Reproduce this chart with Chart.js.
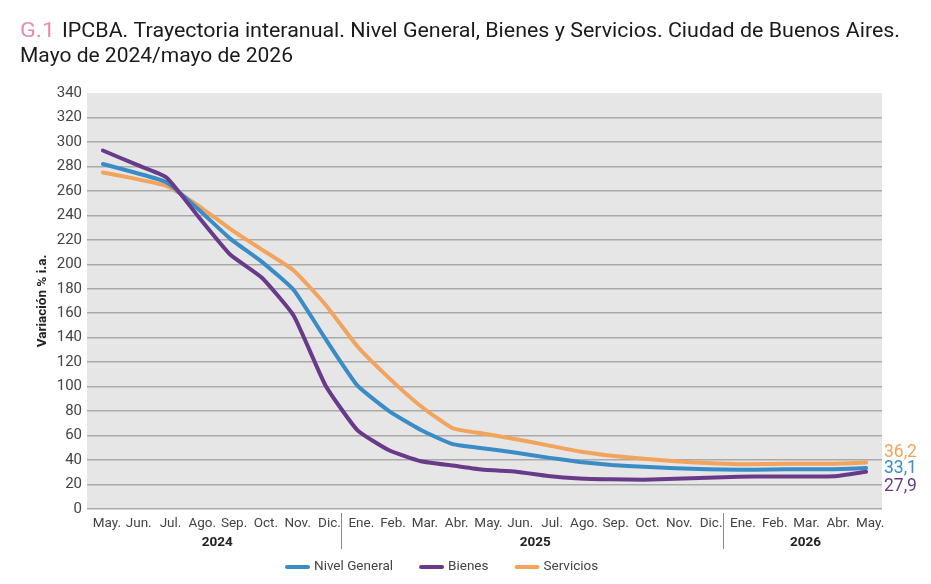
<!DOCTYPE html>
<html>
<head>
<meta charset="utf-8">
<script src="https://cdn.jsdelivr.net/npm/chart.js@4.4.1/dist/chart.umd.min.js"></script>
<style>
  html, body { margin: 0; padding: 0; background: #ffffff; }
  #wrap { position: relative; width: 931px; height: 584px; }
</style>
</head>
<body>
<div id="wrap"><canvas id="c" width="931" height="584"></canvas></div>
<script>
// ---- Data ----
const months = ['May.','Jun.','Jul.','Ago.','Sep.','Oct.','Nov.','Dic.',
                'Ene.','Feb.','Mar.','Abr.','May.','Jun.','Jul.','Ago.','Sep.','Oct.','Nov.','Dic.',
                'Ene.','Feb.','Mar.','Abr.','May.'];
const years = ['2024', '2025', '2026'];
const yearSpans = [[0, 7], [8, 19], [20, 24]];
const nivelGeneral = [282, 275, 267, 245, 221, 202, 179, 139, 101, 80, 64.5, 53, 49.5, 46, 42, 38.5, 36, 34.5, 33.3, 32.5, 32, 32.3, 32.5, 32.5, 33.5];
const bienes       = [293, 282, 271, 239, 208, 189, 158, 101, 64.5, 48, 39, 35.5, 32, 30.5, 27, 25, 24.3, 24, 24.7, 25.5, 26.4, 26.6, 26.6, 26.8, 30.5];
const servicios    = [275, 270, 264, 248, 229, 212, 195, 167, 133, 107, 84, 66, 61.5, 57, 52, 47, 43.5, 41, 39, 37.5, 36.5, 36.8, 37, 37, 38];
const endLabels = ['33,1', '27,9', '36,2'];
const seriesNames = ['Nivel General', 'Bienes', 'Servicios'];
const yTicksMax = 340;
const yTicksStep = 20;

const COLORS = ['#3a8cc6', '#6a3a8a', '#f2a35c'];
const FONT = 'Roboto, "Liberation Sans", Arial, sans-serif';

// ---- Plugins ----
const decor = {
  id: 'decor',
  beforeDraw(chart) {
    const {ctx, chartArea: a} = chart;
    ctx.save();
    ctx.fillStyle = '#e6e6e6';
    ctx.fillRect(a.left, a.top, a.right - a.left, a.bottom - a.top);
    ctx.restore();
  },
  afterDraw(chart) {
    const {ctx, chartArea: a} = chart;
    const x = chart.scales.x, y = chart.scales.y;
    ctx.save();
    // Title
    ctx.textBaseline = 'alphabetic';
    ctx.textAlign = 'left';
    ctx.font = '21px ' + FONT;
    ctx.fillStyle = '#e48db3';
    const g = 'G.1';
    let w = ctx.measureText(g).width;
    ctx.save(); ctx.translate(20, 37); ctx.scale(35 / w, 1); ctx.fillText(g, 0, 0); ctx.restore();
    ctx.fillStyle = '#1a1a1a';
    const t1 = 'IPCBA. Trayectoria interanual. Nivel General, Bienes y Servicios. Ciudad de Buenos Aires.';
    w = ctx.measureText(t1).width;
    ctx.save(); ctx.translate(62, 37); ctx.scale(838 / w, 1); ctx.fillText(t1, 0, 0); ctx.restore();
    const t2 = 'Mayo de 2024/mayo de 2026';
    w = ctx.measureText(t2).width;
    ctx.save(); ctx.translate(20, 62); ctx.scale(273 / w, 1); ctx.fillText(t2, 0, 0); ctx.restore();

    // Year labels and separators
    ctx.font = 'bold 13.5px ' + FONT;
    ctx.fillStyle = '#222';
    ctx.textAlign = 'center';
    ctx.textBaseline = 'middle';
    yearSpans.forEach((s, i) => {
      const cx = (x.getPixelForValue(s[0]) + x.getPixelForValue(s[1])) / 2 + 3;
      ctx.fillText(years[i], cx, 543);
      if (i > 0) {
        const sx = Math.round((x.getPixelForValue(s[0] - 1) + x.getPixelForValue(s[0])) / 2) + 0.5;
        ctx.strokeStyle = '#8a8a8a';
        ctx.lineWidth = 1;
        ctx.beginPath(); ctx.moveTo(sx, 513); ctx.lineTo(sx, 549); ctx.stroke();
      }
    });

    // End labels
    ctx.font = '17.5px ' + FONT;
    ctx.textAlign = 'left';
    const offs = [1, 15, -10];
    chart.data.datasets.forEach((ds, i) => {
      const v = ds.data[ds.data.length - 1];
      ctx.fillStyle = COLORS[i];
      ctx.fillText(endLabels[i], a.right + 2, y.getPixelForValue(v) + offs[i]);
    });

    // Legend
    ctx.font = '13.5px ' + FONT;
    ctx.textBaseline = 'middle';
    let lx = 285;
    const ly = 567;
    chart.data.datasets.forEach((ds, i) => {
      ctx.strokeStyle = COLORS[i];
      ctx.lineWidth = 4;
      ctx.lineCap = 'round';
      ctx.beginPath(); ctx.moveTo(lx + 2, ly); ctx.lineTo(lx + 23, ly); ctx.stroke();
      ctx.fillStyle = '#444';
      ctx.fillText(ds.label, lx + 29, ly);
      lx += 29 + ctx.measureText(ds.label).width + 26;
    });
    ctx.restore();
  }
};

new Chart(document.getElementById('c'), {
  type: 'line',
  data: {
    labels: months,
    datasets: [
      { label: seriesNames[0], data: nivelGeneral, borderColor: COLORS[0], order: 1 },
      { label: seriesNames[1], data: bienes, borderColor: COLORS[1], order: 0 },
      { label: seriesNames[2], data: servicios, borderColor: COLORS[2], order: 2 }
    ]
  },
  options: {
    responsive: false,
    animation: false,
    devicePixelRatio: 1,
    layout: { padding: { top: 93, right: 49, bottom: 45, left: 0 } },
    elements: {
      line: { borderWidth: 4, tension: 0.15, fill: false, borderJoinStyle: 'round', borderCapStyle: 'round' },
      point: { radius: 0, hoverRadius: 0 }
    },
    plugins: { legend: { display: false }, tooltip: { enabled: false }, title: { display: false } },
    scales: {
      x: {
        offset: true,
        grid: { display: false, drawTicks: false },
        border: { display: false },
        ticks: { color: '#444', font: { size: 13.5, family: FONT }, padding: 7, maxRotation: 0, autoSkip: false, labelOffset: 4 },
        afterFit(s) { s.height = 30; }
      },
      y: {
        min: 0, max: yTicksMax,
        grid: {
          color: (c) => c.tick && c.tick.value === yTicksMax ? 'rgba(0,0,0,0)' : '#a9a9a9',
          lineWidth: 1.5, drawTicks: false
        },
        border: { display: false },
        ticks: { stepSize: yTicksStep, color: '#444', font: { size: 15, family: FONT }, padding: 5 },
        title: { display: true, text: 'Variación % i.a.', color: '#222', font: { size: 13.5, weight: 'bold', family: FONT }, padding: { top: 35, bottom: 0 } },
        afterFit(s) { s.width = 87; }
      }
    }
  },
  plugins: [decor]
});
</script>
</body>
</html>
